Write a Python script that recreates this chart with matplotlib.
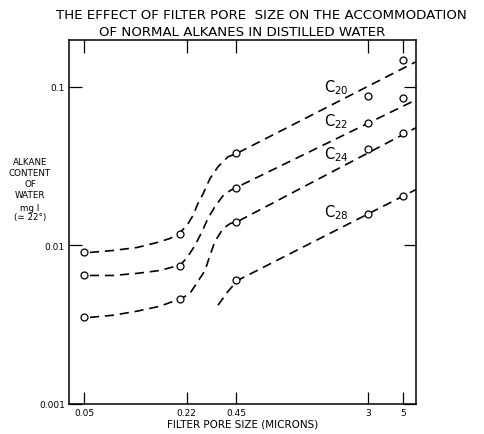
import numpy as np
import matplotlib
matplotlib.use('Agg')
import matplotlib.pyplot as plt

# measured points (filter pore size in microns, alkane content mg/l)
pore = [0.05, 0.2, 0.45, 3, 5]
c20 = [0.00904, 0.0119, 0.0385, 0.0877, 0.148]
c22 = [0.00648, 0.00738, 0.0232, 0.0594, 0.0853]
c24 = [0.00352, 0.00457, 0.0140, 0.0407, 0.0514]
c28 = [np.nan, np.nan, 0.00602, 0.0159, 0.0206]

# hand drawn trend curves
c20_curve_x = [0.0545, 0.076, 0.1075, 0.1435, 0.173, 0.197, 0.221, 0.241, 0.259, 0.279, 0.308, 0.346, 0.400, 0.449, 6.0]
c20_curve_y = [0.00904, 0.0093, 0.00971, 0.01044, 0.01107, 0.0119, 0.01336, 0.01545, 0.0184, 0.0212, 0.0264, 0.0314, 0.0363, 0.0379, 0.144]
c22_curve_x = [0.0545, 0.076, 0.1075, 0.150, 0.186, 0.200, 0.224, 0.248, 0.275, 0.299, 0.331, 0.372, 0.412, 0.449, 6.0]
c22_curve_y = [0.00647, 0.00647, 0.00667, 0.00696, 0.00738, 0.00745, 0.00853, 0.0100, 0.01225, 0.0148, 0.0176, 0.0206, 0.0222, 0.02317, 0.0828]
c24_curve_x = [0.0545, 0.076, 0.1075, 0.150, 0.181, 0.200, 0.231, 0.259, 0.287, 0.308, 0.331, 0.372, 0.412, 0.459, 6.0]
c24_curve_y = [0.00352, 0.00363, 0.00385, 0.00414, 0.00444, 0.00457, 0.00499, 0.00594, 0.00696, 0.00865, 0.0106, 0.01279, 0.01375, 0.01416, 0.0552]
c28_curve_x = [0.346, 0.400, 0.459, 6.0]
c28_curve_y = [0.0042, 0.00514, 0.00602, 0.0225]

xticks = [0.05, 0.22, 0.45, 3, 5]
xtick_labels = ['0.05', '0.22', '0.45', '3', '5']
yticks = [0.001, 0.01, 0.1]
ytick_labels = ['0.001', '0.01', '0.1']

series = [
    ('C$_{20}$', c20, c20_curve_x, c20_curve_y, (1.6, 0.100)),
    ('C$_{22}$', c22, c22_curve_x, c22_curve_y, (1.6, 0.061)),
    ('C$_{24}$', c24, c24_curve_x, c24_curve_y, (1.6, 0.038)),
    ('C$_{28}$', c28, c28_curve_x, c28_curve_y, (1.6, 0.0164)),
]

fig = plt.figure(figsize=(4.85, 4.35), dpi=100)
ax = fig.add_axes([0.1423, 0.069, 0.7155, 0.8368])

for name, vals, cx, cy, lpos in series:
    ax.plot(cx, cy, color='black', lw=1.2, dashes=(5.5, 3.5), zorder=2)
    ax.plot(pore, vals, 'o', ms=5, mfc='white', mec='black', mew=0.9, zorder=3)
    ax.text(lpos[0], lpos[1], name, fontsize=10.5, ha='left', va='center')

ax.set_xscale('log')
ax.set_yscale('log')
ax.set_xlim(0.0403, 6.03)
ax.set_ylim(0.001, 0.198)

ax.set_xticks(xticks)
ax.set_xticklabels(xtick_labels)
ax.set_yticks(yticks)
ax.set_yticklabels(ytick_labels)
ax.minorticks_off()
ax.tick_params(direction='in', length=9, width=0.9, top=True, right=True,
               labelsize=6.5, pad=3)
for s in ax.spines.values():
    s.set_linewidth(1.1)

ax.set_xlabel('FILTER PORE SIZE (MICRONS)', fontsize=7.5, labelpad=1)

fig.text(0.54, 0.965, 'THE EFFECT OF FILTER PORE  SIZE ON THE ACCOMMODATION',
         fontsize=9.6, ha='center', va='center')
fig.text(0.499, 0.926, 'OF NORMAL ALKANES IN DISTILLED WATER',
         fontsize=9.6, ha='center', va='center')

fig.text(0.062, 0.5885, 'ALKANE\nCONTENT\nOF\nWATER', fontsize=6.3, ha='center',
         va='center', linespacing=1.25)
fig.text(0.062, 0.51, 'mg l\n(\u2243 22\u00b0)', fontsize=6.3, ha='center',
         va='center', linespacing=1.1)

fig.savefig('out.png', dpi=100)
